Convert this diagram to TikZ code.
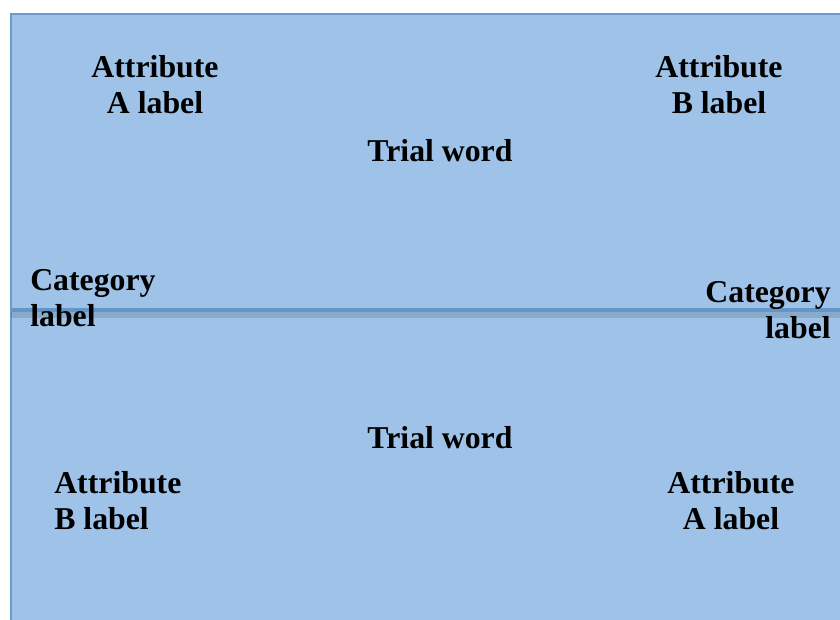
\documentclass[tikz,border=0pt]{standalone}
\usepackage{fontspec}
\setmainfont{Liberation Serif}
\definecolor{panelblue}{HTML}{9EC2E8}
\definecolor{edgeblue}{HTML}{6A9BD0}
\definecolor{rulelblue}{HTML}{6495C8}

\begin{document}
\begin{tikzpicture}[x=0.025cm,y=-0.025cm,
	lab/.style={font=\fontsize{22.6}{25.5}\selectfont\bfseries,inner sep=0pt,text=black},
	labc/.style={lab,align=center},
	labl/.style={lab,align=left},
	labr/.style={lab,align=right}]
	\useasboundingbox (0,0) rectangle (840,619);
	\clip (0,0) rectangle (840,619);
	% screen
	\draw[fill=panelblue,draw=edgeblue,line width=2pt] (11,14) rectangle (850,630);
	% divider with its shadow
	\coordinate (divL) at (11,310);
	\coordinate (divR) at (850,310);
	\fill[black,opacity=0.12] (11,311) rectangle (850,318);
	\draw[rulelblue,line width=2.4pt] (divL) -- (divR);
	% top half
	\node[labc] (attrA1) at (155,85) {Attribute\\A label};
	\node[labc] (attrB1) at (719,85) {Attribute\\B label};
	\node[lab] (trial1) at (440,151) {Trial word};
	\node[labl,anchor=west] (catL) at (30,298) {Category\\label};
	\node[labr,anchor=east] (catR) at (831,310) {Category\\label};
	% bottom half
	\node[lab] (trial2) at (440,438) {Trial word};
	\node[labl,anchor=west] (attrB2) at (54,501) {Attribute\\B label};
	\node[labc] (attrA2) at (731,501) {Attribute\\A label};
\end{tikzpicture}
\end{document}
